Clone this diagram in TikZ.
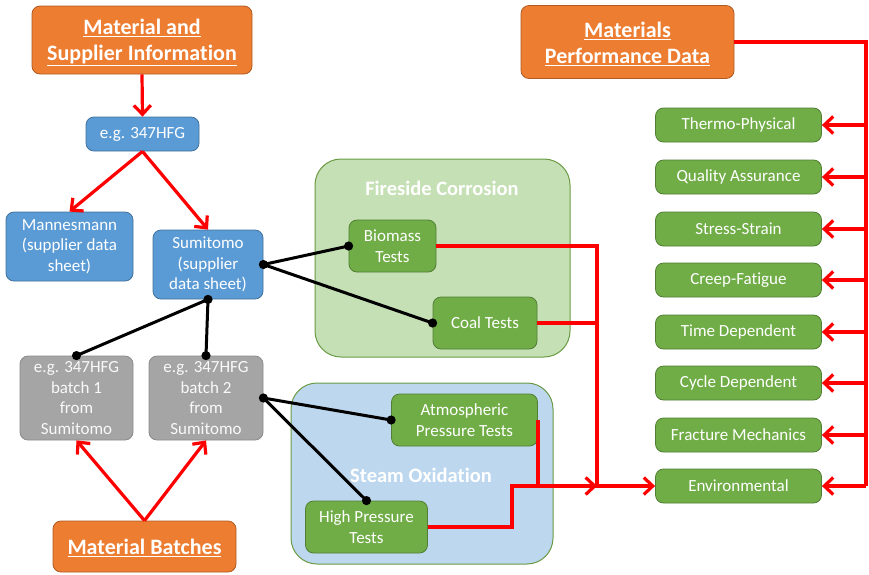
\documentclass[tikz,border=0pt]{standalone}
\usepackage{fontspec}
\setmainfont{Carlito}[Ligatures=NoCommon]
\usetikzlibrary{arrows.meta}
\definecolor{orfill}{HTML}{ED7D31}
\definecolor{ordraw}{HTML}{AE5A21}
\definecolor{blfill}{HTML}{5B9BD5}
\definecolor{bldraw}{HTML}{41719C}
\definecolor{gyfill}{HTML}{A5A5A5}
\definecolor{gydraw}{HTML}{8A8A8A}
\definecolor{gnfill}{HTML}{70AD47}
\definecolor{gndraw}{HTML}{507E32}
\definecolor{lgfill}{HTML}{C5E0B4}
\definecolor{lbfill}{HTML}{BDD7EE}
\definecolor{grpdraw}{HTML}{6A9A45}
\definecolor{redc}{HTML}{FF0000}
\begin{document}
\begin{tikzpicture}[x=1pt,y=-1pt,
  box/.style={rectangle, rounded corners=8pt, line width=0.8pt, inner sep=0pt, align=center, text=white, font=\fontsize{17}{20.5}\selectfont},
  obox/.style={box, fill=orfill, draw=ordraw},
  otext/.style={text=white, align=center, font=\fontsize{22}{26}\selectfont\bfseries},
  bbox/.style={box, fill=blfill, draw=bldraw},
  gybox/.style={box, fill=gyfill, draw=gydraw, text=white!95!gray},
  gnbox/.style={box, fill=gnfill, draw=gndraw},
  pdbox/.style={gnbox, minimum width=166pt, minimum height=34pt},
  grp/.style={rectangle, rounded corners=26pt, line width=1pt, draw=grpdraw, inner sep=0pt},
  gtitle/.style={text=white, font=\fontsize{20.5}{24}\selectfont\bfseries},
  redline/.style={draw=redc, line width=3.2pt},
  redarr/.style={redline, -{Straight Barb[length=9pt,width=17pt]}},
  blk/.style={draw=black, line width=3pt},
  dot/.style={fill=black}
]
\useasboundingbox (0,0) rectangle (869,574);

% groups
\node[grp, fill=lgfill, minimum width=255pt, minimum height=198pt] (fire) at (442.5,258) {};
\node[gtitle] (firet) at (442,188) {Fireside Corrosion};
\node[grp, fill=lbfill, minimum width=262pt, minimum height=181pt] (steam) at (422,473.5) {};
\node[gtitle] (steamt) at (421,475) {Steam Oxidation};

% left column
\node[obox, minimum width=220pt, minimum height=68pt] (msi) at (142,40) {};
\node[otext] (msit) at (142,42.5) {\underline{Material and}\\\underline{Supplier Information}};
\node[bbox, minimum width=113pt, minimum height=34pt] (egb) at (142.5,134) {e.g. 347HFG};
\node[bbox, minimum width=127pt, minimum height=69pt] (mann) at (69.5,246.5) {Mannesmann\\(supplier data\\sheet)};
\node[bbox, minimum width=110pt, minimum height=69pt] (sumi) at (208,264.5) {Sumitomo\\(supplier\\data sheet)};
\node[gybox, minimum width=113pt, minimum height=84pt] (b1) at (76.5,398) {e.g. 347HFG\\batch 1\\from\\Sumitomo};
\node[gybox, minimum width=114pt, minimum height=84pt] (b2) at (206,398) {e.g. 347HFG\\batch 2\\from\\Sumitomo};
\node[obox, minimum width=183pt, minimum height=51pt] (mb) at (144.5,546.5) {};
\node[otext] (mbt) at (144.5,547.5) {\underline{Material Batches}};

% tests
\node[gnbox, minimum width=87pt, minimum height=52pt] (bio) at (392.5,246) {Biomass\\Tests};
\node[gnbox, minimum width=104pt, minimum height=52pt] (coal) at (485,323) {Coal Tests};
\node[gnbox, minimum width=146pt, minimum height=52pt] (atm) at (464.5,420) {Atmospheric\\Pressure Tests};
\node[gnbox, minimum width=122pt, minimum height=52pt] (hp) at (366.5,527) {High Pressure\\Tests};

% right column
\node[obox, minimum width=213pt, minimum height=73pt] (mpd) at (627.5,42) {};
\node[otext] (mpdt) at (627.5,44) {\underline{Materials}\\\underline{Performance Data}};
\node[pdbox] (tp) at (738.5,125) {Thermo-Physical};
\node[pdbox] (qa) at (738.5,177) {Quality Assurance};
\node[pdbox] (ss) at (738.5,229) {Stress-Strain};
\node[pdbox] (cf) at (738.5,280) {Creep-Fatigue};
\node[pdbox] (td) at (738.5,332) {Time Dependent};
\node[pdbox] (cd) at (738.5,383) {Cycle Dependent};
\node[pdbox] (fm) at (738.5,435) {Fracture Mechanics};
\node[pdbox] (env) at (738.5,486) {Environmental};

% red arrows left
\draw[redarr] (msi.south) -- (egb.north);
\draw[redarr] (egb.south) -- (mann.north);
\draw[redarr] (egb.south) -- (sumi.north);
\draw[redarr] (mb.north) -- (b1.south);
\draw[redarr] (mb.north) -- (b2.south);

% black links
\draw[blk] (sumi.east) -- (bio.west);
\draw[blk] (sumi.east) -- (coal.west);
\draw[blk] (sumi.south) -- (b1.north);
\draw[blk] (sumi.south) -- (b2.north);
\draw[blk] (b2.east) -- (atm.west);
\draw[blk] (b2.east) -- (hp.north);
\foreach \p in {sumi.east, sumi.south, bio.west, coal.west, b1.north, b2.north, b2.east, atm.west, hp.north}
  \fill[dot] (\p) circle (4.6pt);

% red merging to Environmental
\coordinate (jx) at (597,486);
\coordinate (hx) at (512,486);
\draw[redline] (coal.east) -- (coal.east -| jx);
\draw[redline] (atm.east) -- (atm.east |- jx);
\draw[redarr] (bio.east) -| (jx) -- (env.west);
\draw[redarr] (hp.east) -| (hx) -- (jx);

% right bus
\coordinate (bt) at (866,42);
\coordinate (bb) at (866,486);
\draw[redline] (mpd.east) -- (bt) -- (bb);
\foreach \n in {tp,qa,ss,cf,td,cd,fm,env}
  \draw[redarr] (\n.east -| bt) -- (\n.east);
\end{tikzpicture}
\end{document}
